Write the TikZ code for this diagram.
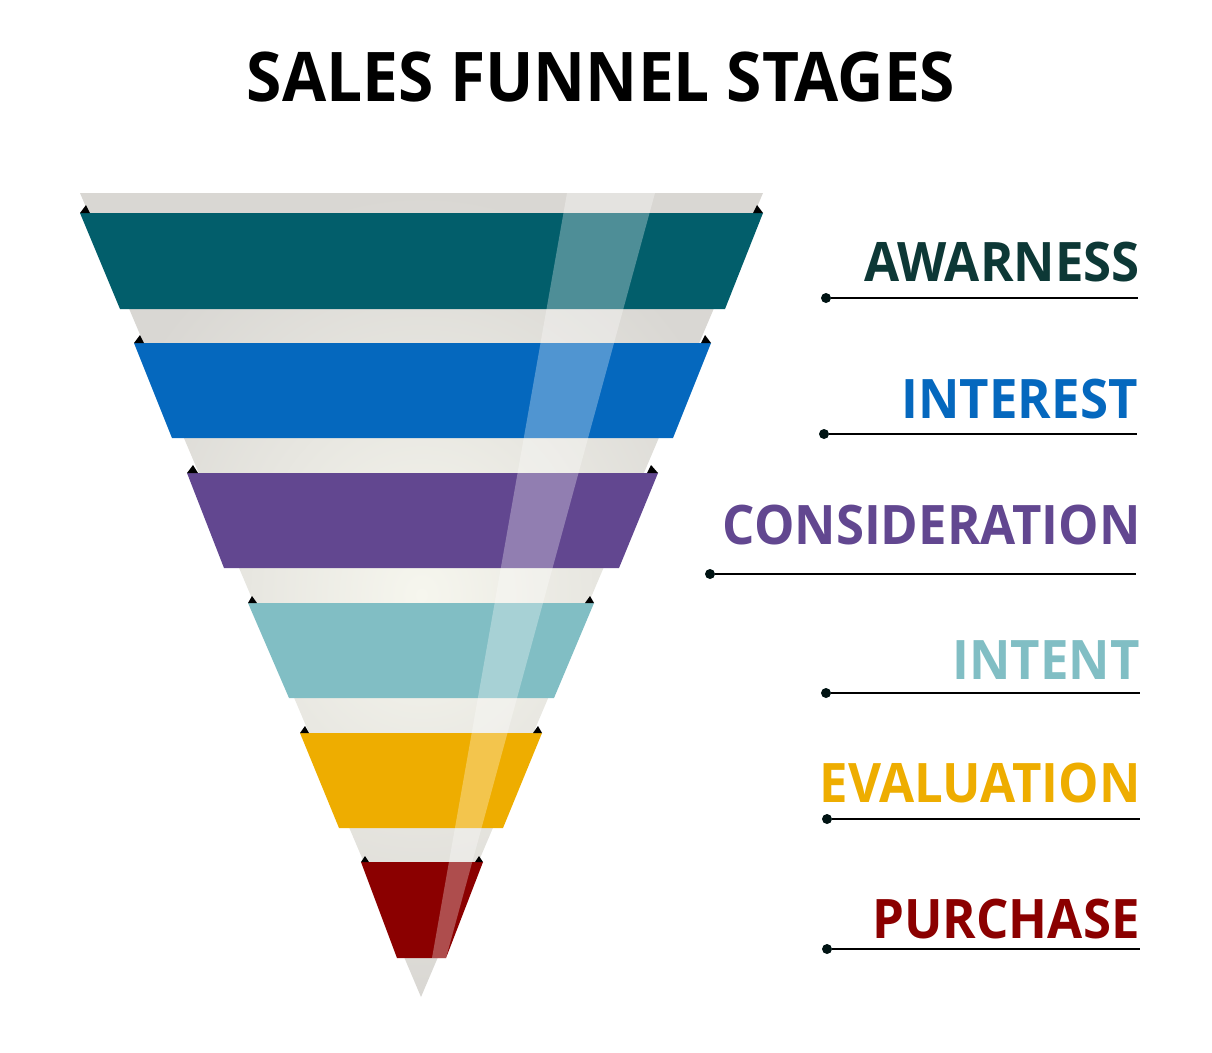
\documentclass[tikz,border=0pt]{standalone}
\usepackage{fontspec}
\setmainfont{Open Sans}[FakeStretch=0.935]
\usepackage{tikz}
\usetikzlibrary{positioning}

\definecolor{funnelgray}{HTML}{D9D7D3}
\definecolor{glow}{HTML}{F6F6EE}
\definecolor{awarecol}{HTML}{025E6B}
\definecolor{awaretxt}{HTML}{0D3836}
\definecolor{interestcol}{HTML}{0568BE}
\definecolor{considercol}{HTML}{624790}
\definecolor{intentcol}{HTML}{81BEC4}
\definecolor{evalcol}{HTML}{EEAD00}
\definecolor{purchasecol}{HTML}{8B0000}

\begin{document}
\begin{tikzpicture}[
  x=0.02cm, y=-0.02cm,
  title/.style={font=\fontsize{39}{44}\selectfont\bfseries, anchor=base, inner sep=0pt},
  stagetxt/.style={font=\fontsize{31}{36}\selectfont\bfseries, anchor=base east, inner sep=0pt},
  fold/.style={fill=black},
  leader/.style={line width=1.1pt, black},
  dot/.style={circle, fill=black!85!teal, inner sep=0pt, minimum size=0.2cm},
  shine/.style={fill=white, opacity=0.3},
]
\useasboundingbox (0,0) rectangle (1212,1052);

\node[title] (head) at (601,101) {SALES FUNNEL STAGES};

% funnel body
\shade[inner color=glow, outer color=funnelgray] (80,193) -- (763,193) -- (421,997) -- cycle;

% bands
\fill[awarecol]    (80,213)  -- (763,213) -- (725,309) -- (120,309) -- cycle;
\fill[interestcol] (134,343) -- (711,343) -- (673,438) -- (172,438) -- cycle;
\fill[considercol] (187,473) -- (658,473) -- (619,568) -- (224,568) -- cycle;
\fill[intentcol]   (248,603) -- (594,603) -- (554,698) -- (289,698) -- cycle;
\fill[evalcol]     (300,733) -- (542,733) -- (503,828) -- (339,828) -- cycle;
\fill[purchasecol] (361,862) -- (483,862) -- (446,958) -- (397,958) -- cycle;

% folds at band corners
\fill[fold] (80,213)  -- (90,213)  -- (86,205)  -- cycle;
\fill[fold] (763,213) -- (753,213) -- (757,205) -- cycle;
\fill[fold] (134,343) -- (144,343) -- (140,335) -- cycle;
\fill[fold] (711,343) -- (701,343) -- (705,335) -- cycle;
\fill[fold] (187,473) -- (198,473) -- (193,465) -- cycle;
\fill[fold] (658,473) -- (647,473) -- (651,465) -- cycle;
\fill[fold] (248,603) -- (257,603) -- (252,596) -- cycle;
\fill[fold] (594,603) -- (585,603) -- (590,596) -- cycle;
\fill[fold] (300,733) -- (309,733) -- (305,726) -- cycle;
\fill[fold] (542,733) -- (533,733) -- (538,726) -- cycle;
\fill[fold] (361,862) -- (369,862) -- (365,856) -- cycle;
\fill[fold] (483,862) -- (475,862) -- (479,856) -- cycle;

% highlight
\fill[shine] (567,193) -- (655,193) -- (446,958) -- (432,958) -- cycle;

% stage labels
\node[stagetxt, text=awaretxt]    (aware)    at (1140,281) {AWARNESS};
\node[stagetxt, text=interestcol] (interest) at (1138,418) {INTEREST};
\node[stagetxt, text=considercol] (consider) at (1141,544) {CONSIDERATION};
\node[stagetxt, text=intentcol]   (intent)   at (1140,679) {INTENT};
\node[stagetxt, text=evalcol]     (eval)     at (1141,802) {EVALUATION};
\node[stagetxt, text=purchasecol] (purchase) at (1140,938) {PURCHASE};

% leader lines
\node[dot] (d1) at (826,298) {};
\node[dot] (d2) at (824,434) {};
\node[dot] (d3) at (710,574) {};
\node[dot] (d4) at (826,693) {};
\node[dot] (d5) at (827,819) {};
\node[dot] (d6) at (827,949) {};
\coordinate (e1) at (1138,298);
\coordinate (e2) at (1137,434);
\coordinate (e3) at (1136,574);
\coordinate (e4) at (1140,693);
\coordinate (e5) at (1140,819);
\coordinate (e6) at (1140,949);
\draw[leader] (d1) -- (e1);
\draw[leader] (d2) -- (e2);
\draw[leader] (d3) -- (e3);
\draw[leader] (d4) -- (e4);
\draw[leader] (d5) -- (e5);
\draw[leader] (d6) -- (e6);
\end{tikzpicture}
\end{document}
